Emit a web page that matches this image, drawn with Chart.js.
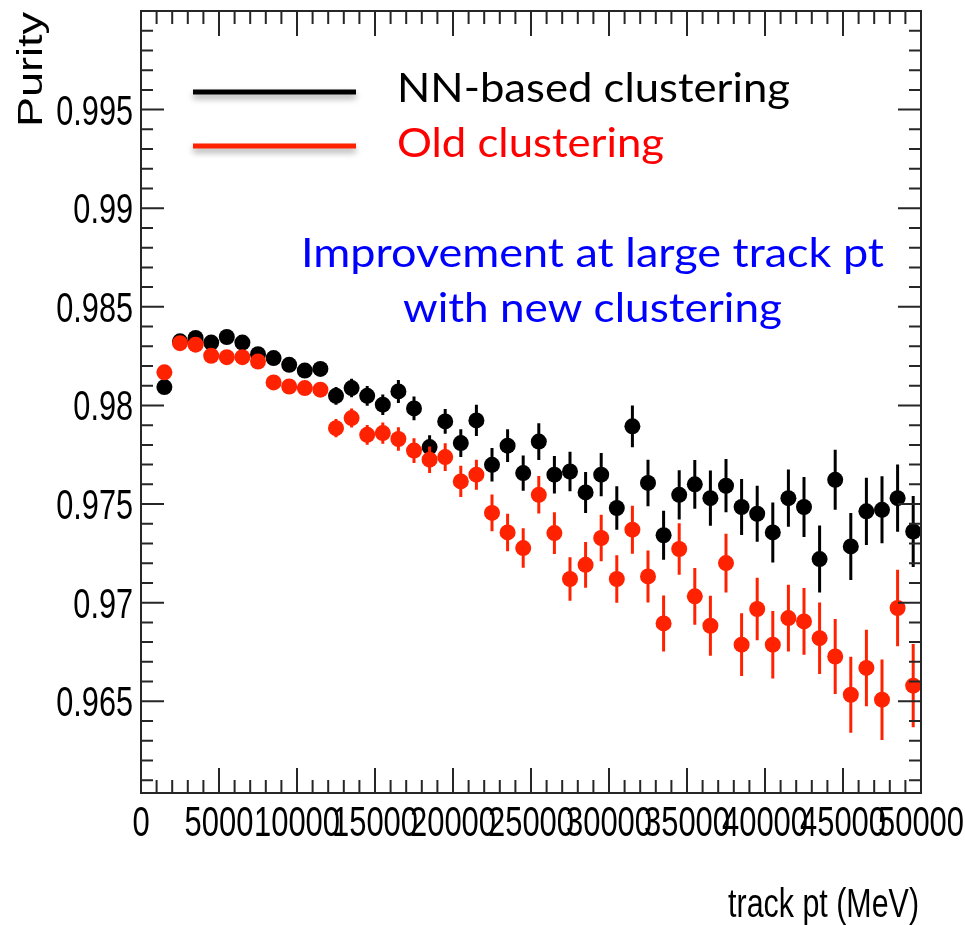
<!DOCTYPE html>
<html>
<head>
<meta charset="utf-8">
<title>Purity vs track pt</title>
<script src="https://cdn.jsdelivr.net/npm/chart.js@4.4.1/dist/chart.umd.min.js"></script>
<style>
    html, body { margin: 0; padding: 0; background: #ffffff; }
    canvas { display: block; }
</style>
</head>
<body>
<canvas id="grafico-pureza" width="965" height="925"></canvas>
<script>
'use strict';

// bin centres (MeV)
const trackPt = [
    1500, 2500, 3500, 4500, 5500, 6500, 7500, 8500, 9500, 10500,
    11500, 12500, 13500, 14500, 15500, 16500, 17500, 18500, 19500, 20500,
    21500, 22500, 23500, 24500, 25500, 26500, 27500, 28500, 29500, 30500,
    31500, 32500, 33500, 34500, 35500, 36500, 37500, 38500, 39500, 40500,
    41500, 42500, 43500, 44500, 45500, 46500, 47500, 48500, 49500
];

const nnPurity = [
    0.98093, 0.98325, 0.98342, 0.98319, 0.98347, 0.98319, 0.98260, 0.98240, 0.98206, 0.98177,
    0.98185, 0.98049, 0.98088, 0.98049, 0.98004, 0.98071, 0.97985, 0.97789, 0.97919, 0.97809,
    0.97924, 0.97699, 0.97796, 0.97657, 0.97817, 0.97649, 0.97665, 0.97559, 0.97649, 0.97480,
    0.97894, 0.97607, 0.97342, 0.97547, 0.97600, 0.97530, 0.97593, 0.97485, 0.97451, 0.97356,
    0.97530, 0.97485, 0.97221, 0.97623, 0.97285, 0.97463, 0.97471, 0.97530, 0.97361
];
const nnError = [
    0.00020, 0.00015, 0.00015, 0.00015, 0.00018, 0.00020, 0.00022, 0.00025, 0.00030, 0.00032,
    0.00035, 0.00045, 0.00047, 0.00050, 0.00052, 0.00058, 0.00060, 0.00060, 0.00063, 0.00070,
    0.00079, 0.00085, 0.00083, 0.00089, 0.00093, 0.00095, 0.00100, 0.00104, 0.00110, 0.00110,
    0.00106, 0.00118, 0.00124, 0.00125, 0.00124, 0.00140, 0.00135, 0.00142, 0.00142, 0.00152,
    0.00145, 0.00152, 0.00170, 0.00152, 0.00170, 0.00170, 0.00170, 0.00170, 0.00180
];

const oldPurity = [
    0.98168, 0.98316, 0.98308, 0.98252, 0.98245, 0.98245, 0.98223, 0.98117, 0.98096, 0.98088,
    0.98080, 0.97885, 0.97936, 0.97851, 0.97860, 0.97830, 0.97771, 0.97725, 0.97738, 0.97615,
    0.97649, 0.97455, 0.97356, 0.97277, 0.97547, 0.97353, 0.97120, 0.97192, 0.97328, 0.97120,
    0.97370, 0.97133, 0.96895, 0.97272, 0.97032, 0.96883, 0.97201, 0.96787, 0.96968, 0.96787,
    0.96922, 0.96905, 0.96820, 0.96727, 0.96533, 0.96669, 0.96508, 0.96973, 0.96579
];
const oldError = [
    0.00020, 0.00015, 0.00015, 0.00016, 0.00018, 0.00020, 0.00023, 0.00026, 0.00030, 0.00033,
    0.00036, 0.00046, 0.00048, 0.00050, 0.00054, 0.00060, 0.00063, 0.00067, 0.00070, 0.00079,
    0.00076, 0.00093, 0.00095, 0.00100, 0.00095, 0.00106, 0.00110, 0.00116, 0.00118, 0.00120,
    0.00122, 0.00132, 0.00142, 0.00131, 0.00144, 0.00152, 0.00149, 0.00159, 0.00159, 0.00171,
    0.00169, 0.00169, 0.00181, 0.00190, 0.00193, 0.00194, 0.00204, 0.00194, 0.00211
];

const xTickLabels = ['0', '5000', '10000', '15000', '20000', '25000', '30000', '35000', '40000', '45000', '50000'];
const yTickLabels = ['0.965', '0.97', '0.975', '0.98', '0.985', '0.99', '0.995'];

const seriesNames = ['NN-based clustering', 'Old clustering'];
const noteLines = ['Improvement at large track pt', 'with new clustering'];

const NN_COLOR = '#000000';
const OLD_COLOR = '#ff2200';
const FRAME_COLOR = '#262626';
const ROOT_FONT = '"Liberation Sans", Arial, sans-serif';
const NOTE_FONT = 'Lato, "Noto Sans", sans-serif';

/**
 * Junta valores y errores en puntos {x, y, err}.
 */
function toPoints(values, errors) {
    return trackPt.map((x, i) => ({ x: x, y: values[i], err: errors[i] }));
}

/**
 * Texto con compresion horizontal (las etiquetas ROOT del original salen estrechas).
 */
function drawText(ctx, text, x, y, font, color, align, scaleX) {
    ctx.save();
    ctx.translate(x, y);
    ctx.scale(scaleX, 1);
    ctx.font = font;
    ctx.fillStyle = color;
    ctx.textAlign = align;
    ctx.textBaseline = 'alphabetic';
    ctx.fillText(text, 0, 0);
    ctx.restore();
}

/**
 * Texto ajustado a un ancho dado, empezando en x.
 */
function fitText(ctx, text, x, y, font, color, width) {
    ctx.save();
    ctx.font = font;
    const w = ctx.measureText(text).width;
    ctx.restore();
    drawText(ctx, text, x, y, font, color, 'left', width / w);
}

// barras de error verticales, pintadas justo antes de los puntos de cada serie
const errorBars = {
    id: 'errorBars',
    beforeDatasetDraw(chart, args) {
        const ctx = chart.ctx;
        const yScale = chart.scales.y;
        const ds = chart.data.datasets[args.index];
        ctx.save();
        ctx.strokeStyle = ds.backgroundColor;
        ctx.lineWidth = 3;
        ctx.beginPath();
        args.meta.data.forEach((pt, i) => {
            const d = ds.data[i];
            ctx.moveTo(pt.x, yScale.getPixelForValue(d.y + d.err));
            ctx.lineTo(pt.x, yScale.getPixelForValue(d.y - d.err));
        });
        ctx.stroke();
        ctx.restore();
    }
};

// marco estilo ROOT con ticks hacia dentro en los cuatro lados + textos
const rootFrame = {
    id: 'rootFrame',
    afterDraw(chart) {
        const ctx = chart.ctx;
        const area = chart.chartArea;
        const xs = chart.scales.x;
        const ys = chart.scales.y;

        ctx.save();
        ctx.strokeStyle = FRAME_COLOR;
        ctx.lineWidth = 2;
        ctx.strokeRect(area.left, area.top, area.right - area.left, area.bottom - area.top);

        ctx.beginPath();
        for (let v = 0; v <= 50000; v += 1000) {
            const px = xs.getPixelForValue(v);
            const len = v % 5000 === 0 ? 25 : 13;
            ctx.moveTo(px, area.bottom);
            ctx.lineTo(px, area.bottom - len);
            ctx.moveTo(px, area.top);
            ctx.lineTo(px, area.top + len);
        }
        for (let m = 961; m <= 999; m++) {
            const py = ys.getPixelForValue(m / 1000);
            const len = m % 5 === 0 ? 23 : 12;
            ctx.moveTo(area.left, py);
            ctx.lineTo(area.left + len, py);
            ctx.moveTo(area.right, py);
            ctx.lineTo(area.right - len, py);
        }
        ctx.stroke();
        ctx.restore();

        // etiquetas de los ejes
        const tickFont = '42px ' + ROOT_FONT;
        yTickLabels.forEach(label => {
            const py = ys.getPixelForValue(parseFloat(label));
            drawText(ctx, label, 133, py + 15, tickFont, '#000', 'right', 0.73);
        });
        xTickLabels.forEach(label => {
            const px = xs.getPixelForValue(parseFloat(label));
            drawText(ctx, label, px, 836, '43px ' + ROOT_FONT, '#000', 'center', 0.72);
        });

        drawText(ctx, 'track pt (MeV)', 919, 917, '40px ' + ROOT_FONT, '#000', 'right', 0.76);

        ctx.save();
        ctx.translate(42, 127);
        ctx.rotate(-Math.PI / 2);
        ctx.scale(1, 0.76);
        ctx.font = '45px ' + ROOT_FONT;
        ctx.fillStyle = '#000';
        ctx.textAlign = 'left';
        ctx.textBaseline = 'alphabetic';
        ctx.fillText('Purity', 0, 0);
        ctx.restore();

        // leyenda con sombra
        [[NN_COLOR, 92], [OLD_COLOR, 146]].forEach(([color, ly]) => {
            ctx.save();
            ctx.shadowColor = 'rgba(0, 0, 0, 0.35)';
            ctx.shadowBlur = 6;
            ctx.shadowOffsetY = 4;
            ctx.strokeStyle = color;
            ctx.lineWidth = 5;
            ctx.beginPath();
            ctx.moveTo(193, ly);
            ctx.lineTo(356, ly);
            ctx.stroke();
            ctx.restore();
        });
        const noteFont = '41px ' + NOTE_FONT;
        fitText(ctx, seriesNames[0], 397, 102, noteFont, '#000', 393);
        fitText(ctx, seriesNames[1], 397, 157, noteFont, '#ff0000', 267);
        fitText(ctx, noteLines[0], 301, 267, noteFont, '#0000ff', 583);
        fitText(ctx, noteLines[1], 403, 322, noteFont, '#0000ff', 379);
    }
};

const ctx = document.getElementById('grafico-pureza').getContext('2d');

new Chart(ctx, {
    type: 'scatter',
    data: {
        datasets: [
            {
                label: seriesNames[1],
                data: toPoints(oldPurity, oldError),
                backgroundColor: OLD_COLOR,
                borderWidth: 0,
                pointRadius: 8,
                pointStyle: 'circle'
            },
            {
                label: seriesNames[0],
                data: toPoints(nnPurity, nnError),
                backgroundColor: NN_COLOR,
                borderWidth: 0,
                pointRadius: 8,
                pointStyle: 'circle'
            }
        ]
    },
    options: {
        responsive: false,
        animation: false,
        layout: { padding: { left: 141, right: 44, top: 11, bottom: 132 } },
        plugins: {
            legend: { display: false },
            tooltip: { enabled: false }
        },
        scales: {
            x: { type: 'linear', min: 0, max: 50000, display: false },
            y: { type: 'linear', min: 0.96035, max: 1.0, display: false }
        }
    },
    plugins: [errorBars, rootFrame]
});
</script>
</body>
</html>
